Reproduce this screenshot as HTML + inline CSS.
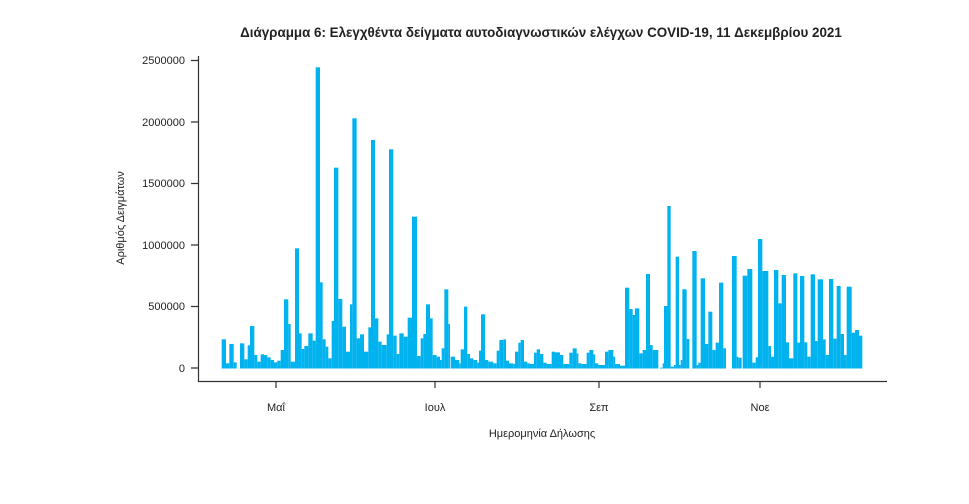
<!DOCTYPE html>
<html><head><meta charset="utf-8"><style>
body{margin:0;background:#fff;width:969px;height:504px;overflow:hidden}
svg{display:block}
text{font-family:"Liberation Sans","DejaVu Sans",sans-serif;fill:#222}
</style></head><body>
<svg id="s" width="969" height="504" viewBox="0 0 969 504">
<text x="541" y="37" text-anchor="middle" font-size="13.4" font-weight="bold" fill="#000">Διάγραμμα 6: Ελεγχθέντα δείγματα αυτοδιαγνωστικών ελέγχων COVID-19, 11 Δεκεμβρίου 2021</text>
<g id="bars" fill="#00b2ee"></g>
<g stroke="#333" stroke-width="1.2" fill="none">
<path d="M198.5 56V381.5H887"/>
<path d="M191 60.5H198.5M191 122H198.5M191 183.5H198.5M191 245H198.5M191 306.5H198.5M191 368H198.5"/>
<path d="M276 381.5V388M435 381.5V388M599 381.5V388M760 381.5V388"/>
</g>
<g font-size="11" text-anchor="end">
<text x="185" y="64">2500000</text><text x="185" y="126">2000000</text><text x="185" y="187">1500000</text>
<text x="185" y="249">1000000</text><text x="185" y="310">500000</text><text x="185" y="372">0</text>
</g>
<g font-size="11" text-anchor="middle">
<text x="276" y="411">Μαΐ</text><text x="435" y="411">Ιουλ</text><text x="599" y="411">Σεπ</text><text x="760" y="411">Νοε</text>
<text x="542" y="437">Ημερομηνία Δήλωσης</text>
<text transform="translate(124,218) rotate(-90)">Αριθμός Δειγμάτων</text>
</g>
</svg>
<script>
var z1=[[65,78,868],[78,88,940],[88,101,882],[101,110,937],[120,133,880],[133,143,928],[143,150,886],[150,163,828],[163,172,915],[172,182,935],[182,192,913],[192,202,915],[202,212,922],[212,222,930],[222,232,937],[232,242,932],[242,252,900],[252,265,748],[265,272,822],[272,285,935],[285,297,595],[297,305,850],[305,313,897],[313,325,888],[325,338,850],[338,347,872],[347,360,52],[360,368,697],[368,377,868],[377,385,890],[385,395,925],[395,402,813],[402,415,353],[415,427,747],[427,438,830],[438,450,905],[450,457,763],[457,470,205],[470,480,865],[480,492,853],[492,505,905],[505,513,832],[513,525,270],[525,535,805],[535,545,875],[545,560,885],[560,567,853],[567,580,298],[580,590,857],[590,598,912],[598,611,850],[611,615,860],[615,623,860],[623,636,803],[636,651,500],[651,662,918],[662,670,865],[670,678,852],[678,690,763],[690,698,805],[698,710,915],[710,720,920],[720,725,930],[725,733,895],[733,745,718],[745,750,822]];
var z2=[[0,5,505],[5,12,475],[12,25,298],[25,32,403],[32,45,500],[45,58,510],[58,62,520],[62,72,478],[72,82,350],[82,90,492],[90,100,505],[100,112,510],[112,117,518],[117,123,482],[123,135,373],[135,145,510],[145,160,515],[160,170,520],[170,178,482],[178,190,450],[190,198,448],[198,207,512],[207,220,520],[220,225,522],[225,235,485],[235,242,458],[242,252,450],[252,262,515],[262,270,520],[270,282,522],[282,290,488],[290,300,478],[300,310,492],[310,320,518],[320,335,522],[335,345,485],[345,360,487],[360,370,495],[370,388,522],[388,398,488],[398,410,475],[410,415,490],[415,425,520],[425,440,522],[440,448,488],[448,460,480],[460,465,493],[465,475,520],[475,495,525],[495,505,485],[505,520,480],[520,525,500],[525,540,522],[540,555,527],[555,568,293],[568,578,357],[578,585,375],[585,598,355],[598,608,490],[608,618,480],[618,630,252],[630,638,465],[638,642,480],[642,655,480],[668,672,520],[672,682,348]];
var z3=[[0,12,533],[12,22,348],[22,32,48],[32,42,530],[42,47,525],[47,57,200],[57,62,525],[62,67,510],[67,80,298],[80,88,447],[97,110,183],[110,115,525],[115,122,518],[122,135,265],[135,145,462],[145,157,365],[157,167,480],[167,177,458],[177,190,278],[190,198,475],[216,230,198],[230,235,500],[235,245,503],[248,262,257],[262,277,237],[277,287,518],[287,294,502],[294,307,147],[307,325,243],[325,333,468],[333,342,500],[342,355,240],[355,365,340],[365,378,255],[378,387,457],[387,400,505],[400,412,250],[412,420,458],[420,433,258],[433,442,457],[442,452,500],[452,465,253],[465,473,453],[473,489,268],[489,497,448],[497,507,495],[507,520,267],[520,530,446],[530,542,288],[542,552,432],[552,560,495],[560,575,290],[575,585,428],[585,597,420],[597,607,437]];
var g=document.getElementById('bars'),h='';
function add(a,ox,oy){a.forEach(function(s){var x=ox+s[0]/3,w=(s[1]-s[0])/3,top=oy+s[2]/3,hh=368.5-top;if(hh<0.5)hh=0.5;h+='<rect x="'+x.toFixed(2)+'" y="'+top.toFixed(2)+'" width="'+w.toFixed(2)+'" height="'+hh.toFixed(2)+'"/>';});}
add(z1,200,50);
add(z2.filter(function(s){return s[0]>=32}),440,190);
add(z3,660,190);
g.innerHTML=h;
</script>
</body></html>
